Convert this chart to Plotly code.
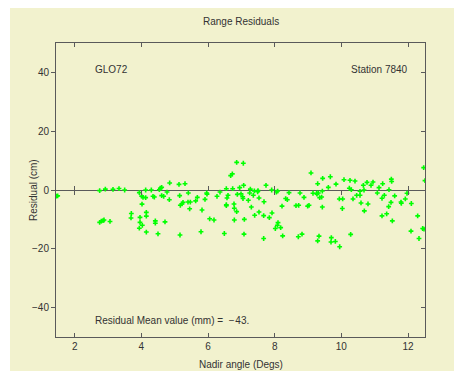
import plotly.graph_objects as go

# Nadir angle (deg) and residual (cm)
nadir = [
    1.45, 1.49, 2.75, 2.92, 3.15, 3.33, 3.50, 2.75, 2.80, 2.85, 2.88, 3.06,
    3.70, 3.69, 3.94, 4.01, 4.05, 4.13, 4.13, 4.02, 4.15, 4.15, 3.96, 3.96,
    4.03, 3.94, 4.15,
    4.30, 4.35, 4.39, 4.54, 4.57, 4.61, 4.61, 4.67, 4.77, 4.85, 4.84, 5.13,
    5.31, 5.15, 5.41, 5.25, 5.22, 5.17, 5.40, 5.47, 5.45, 5.63, 5.68, 5.82,
    5.96, 5.97, 5.91, 6.36, 6.27, 6.55, 6.74, 6.60, 6.57, 6.55, 6.55, 6.78,
    6.79, 6.86, 6.68, 6.73, 6.86, 7.06, 6.79, 7.09, 7.08, 4.42, 4.42, 4.71,
    4.50, 5.16, 5.79, 6.05, 6.18, 6.49,
    6.88, 6.95, 6.99, 7.04, 7.05, 7.07,
    7.21, 7.27, 7.25, 7.30, 7.36, 7.39, 7.49, 7.50, 7.40, 7.53, 7.53, 7.68,
    7.74, 7.67, 7.84, 7.92, 7.91, 8.05, 8.09, 8.43, 8.10, 8.08, 8.02, 8.18,
    8.24, 8.33, 8.38, 8.22, 7.67, 8.64, 8.72, 8.76, 8.88, 8.71, 8.82, 8.99,
    9.03, 9.09, 9.15, 9.26, 9.29, 9.44, 9.31, 9.27, 9.43, 9.35, 9.41, 9.43,
    9.29, 9.33, 9.61, 9.67, 9.70, 9.69, 9.82, 9.84,
    9.94, 10.04, 10.03, 10.08, 10.24, 10.30, 10.26, 10.41, 10.35, 10.46,
    10.56, 10.56, 10.59, 10.66, 10.68, 10.69, 10.77, 10.80, 10.89, 10.95,
    9.95, 10.28, 11.13, 11.08, 11.24, 11.29, 11.22, 11.42, 11.43, 11.22,
    11.36, 11.49, 11.50, 11.51, 11.53, 11.60, 11.79, 11.80, 11.92, 11.97,
    12.10, 12.09, 12.29, 12.33, 12.44, 12.48, 12.47, 12.51,
]
residual = [
    -2.1, -2.0, -0.2, 0.3, 0.2, 0.5, 0.0, -11.0, -10.6, -10.4, -10.2, -10.7,
    -8.0, -9.5, -0.9, -2.1, -2.5, -2.6, 0.0, -4.8, -7.6, -8.9, -9.3, -11.0,
    -12.0, -13.0, -14.3,
    0.0, -2.15, -2.4, 0.1, 0.6, 0.9, -1.9, -2.15, -0.7, 2.4, -3.3, 1.9,
    2.15, -1.9, -1.0, -4.2, -4.75, -5.2, -4.1, -4.1, -6.4, -3.7, -2.5, -6.8,
    -1.0, -1.4, -3.2, -0.7, -2.15, 0.45, 0.45, -1.8, -2.7, -5.3, -5.0, -4.75,
    -6.2, -7.35, 4.9, 5.5, 9.4, 9.1, -10.2, -10.0, -15.0, -10.5, -11.3, -10.85,
    -14.9, -15.3, -14.2, -9.8, -10.2, -14.8,
    -1.5, 0.8, -1.3, -2.3, -2.9, 1.6,
    -3.5, 0.3, -1.0, -5.8, -1.8, -0.3, -0.6, -0.2, -8.6, -2.7, -7.5, -4.0,
    1.6, -8.7, -9.4, -7.8, 0.0, -0.7, -0.35, -0.9, -11.1, -12.0, -13.1, -12.8,
    -15.6, -2.9, -3.3, -5.5, -16.5, -5.3, -5.2, -1.0, -2.5, -15.9, -15.0, -5.5,
    -5.2, 5.8, -1.1, -1.1, 2.15, 3.95, -1.0, -1.4, -0.35, -2.6, -2.4, -5.8,
    -17.3, -15.7, 0.9, 4.5, -16.2, -17.7, -17.5, 2.0,
    -3.05, -3.05, -6.3, 3.5, 0.6, 0.1, 3.3, 3.05, -3.05, -1.8,
    -1.8, -0.45, -4.4, 1.6, 0.0, -7.1, 2.6, -4.75, 1.6, 2.7,
    -19.3, -15.1, 0.8, -1.0, 2.15, -1.8, -2.8, -5.65, 0.1, -8.8,
    -8.1, -4.2, 3.7, 2.9, -10.5, -2.0, -4.1, -4.5, -3.05, -1.1,
    -4.6, -14.0, -8.8, -16.5, -13.1, -13.3, 7.6, 3.2,
]

x_ticks = [2, 4, 6, 8, 10, 12]
y_ticks = [-40, -20, 0, 20, 40]
zero_ticks_below = [2, 4, 8, 10, 12]
zero_ticks_above = [2, 6, 8, 12]

X_RANGE = [1.44, 12.51]
Y_RANGE = [-50, 50]

BG = "#F2F2CE"
AX = "#5a5a5a"
TXT = "#333333"
FONT = "Liberation Sans"

# page has an 8px body margin; figure is placed at (8, 8)
OFF = 8
W, H = 462 - OFF, 371 - OFF
L, T = 56 - OFF, 43 - OFF
R, B = 462 - 425, 371 - 337

fig = go.Figure()
fig.add_trace(go.Scatter(
    x=nadir, y=residual, mode="markers",
    marker=dict(symbol="cross", size=4, color="#00FF00", line=dict(width=0)),
    showlegend=False, hoverinfo="x+y",
))
# helper traces so overlay axes are drawn
fig.add_trace(go.Scatter(x=[], y=[], xaxis="x2", yaxis="y", showlegend=False))
fig.add_trace(go.Scatter(x=[], y=[], xaxis="x3", yaxis="y", showlegend=False))
fig.add_trace(go.Scatter(x=[], y=[], xaxis="x", yaxis="y2", showlegend=False))

fig.update_layout(
    width=W, height=H,
    margin=dict(l=L, r=R, t=T, b=B, pad=0),
    paper_bgcolor=BG, plot_bgcolor=BG,
    font=dict(family=FONT, size=10, color=TXT),
    xaxis=dict(
        range=X_RANGE, tickvals=x_ticks, ticks="inside", ticklen=4,
        tickcolor=AX, showline=True, linecolor=AX, linewidth=1,
        mirror="ticks", showgrid=False, zeroline=False,
        tickfont=dict(family=FONT, size=10, color=TXT),
    ),
    xaxis2=dict(
        range=X_RANGE, matches="x", overlaying="x", anchor="free", position=0.5,
        side="bottom", tickvals=zero_ticks_below, ticks="outside", ticklen=4,
        tickcolor=AX, showticklabels=False, showline=False, showgrid=False,
        zeroline=False,
    ),
    xaxis3=dict(
        range=X_RANGE, matches="x", overlaying="x", anchor="free", position=0.5,
        side="top", tickvals=zero_ticks_above, ticks="outside", ticklen=4,
        tickcolor=AX, showticklabels=False, showline=False, showgrid=False,
        zeroline=False,
    ),
    yaxis=dict(
        range=Y_RANGE, tickvals=y_ticks, ticks="outside", ticklen=4,
        tickcolor=AX, showline=True, linecolor=AX, linewidth=1, mirror=True,
        showgrid=False, zeroline=True, zerolinecolor=AX, zerolinewidth=1,
        tickfont=dict(family=FONT, size=10, color=TXT),
    ),
    yaxis2=dict(
        range=Y_RANGE, matches="y", overlaying="y", side="right", anchor="x",
        tickvals=y_ticks, ticks="inside", ticklen=4, tickcolor=AX,
        showticklabels=False, showline=False, showgrid=False, zeroline=False,
    ),
)

pw = W - L - R
ph = H - T - B

def px_x(px):
    # page pixel -> paper fraction
    return (px - OFF - L) / pw

def px_y(py):
    return (H - B - (py - OFF)) / ph

# white left border strip of the original image
fig.add_shape(type="rect", xref="paper", yref="paper",
              x0=px_x(OFF - 2), x1=px_x(10), y0=px_y(H + OFF + 2), y1=px_y(OFF - 2),
              fillcolor="white", line=dict(width=0), layer="above")

ann = dict(xref="paper", yref="paper", showarrow=False,
           font=dict(family=FONT, size=10, color=TXT))
fig.add_annotation(text="Range Residuals", x=0.5, y=px_y(21.7),
                   xanchor="center", yanchor="middle", **ann)
fig.add_annotation(text="Nadir angle (Degs)", x=0.5, y=px_y(364),
                   xanchor="center", yanchor="middle", **ann)
fig.add_annotation(text="Residual (cm)", x=px_x(33), y=0.5, textangle=-90,
                   xanchor="center", yanchor="middle", **ann)
fig.add_annotation(text="GLO72", x=px_x(93.3), y=px_y(69.7),
                   xanchor="left", yanchor="middle", **ann)
fig.add_annotation(text="Station 7840", x=px_x(410), y=px_y(69.7),
                   xanchor="right", yanchor="middle", **ann)
fig.add_annotation(text="Residual Mean value (mm) =\u00a0\u00a0\u2212\u200a43.",
                   x=px_x(93.3), y=px_y(320.7),
                   xanchor="left", yanchor="middle", **ann)

fig.write_html("out.html")
